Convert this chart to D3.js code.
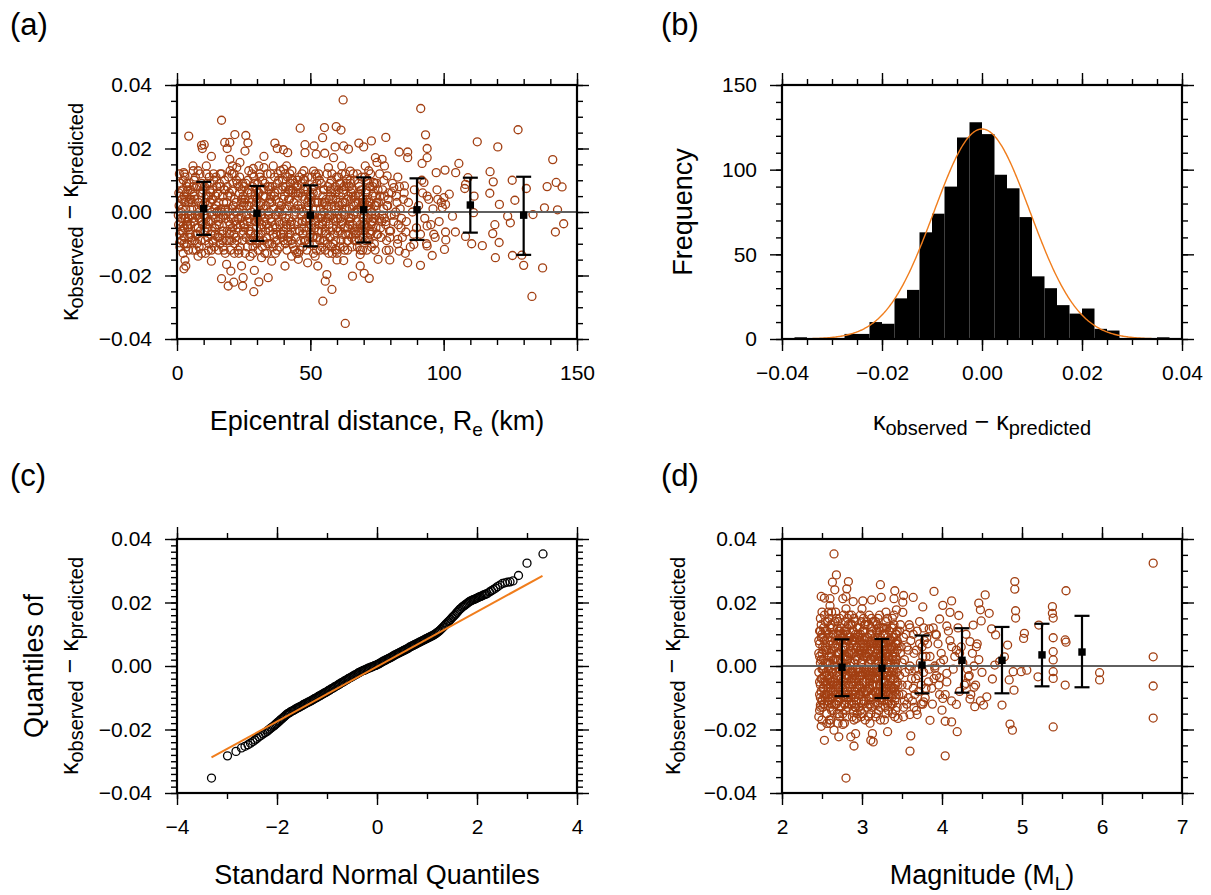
<!DOCTYPE html>
<html>
<head>
<meta charset="utf-8">
<script src="https://cdn.jsdelivr.net/npm/d3@7"></script>
<style>
  body { margin: 0; background: #fff; }
  svg { font-family: "Liberation Sans", Arial, Helvetica, sans-serif; }
</style>
</head>
<body>
<svg id="fig" width="1211" height="895"></svg>
<script>

///////////
// Data  //
///////////

// residuals are kept in units of 0.001 (kappa_obs - kappa_pred)

// (a) residual vs epicentral distance [km, residual]
var distOuter = [
  [62.3,35.3],[91.4,32.6],[16.7,28.9],[4.4,23.9],[46.2,26.4],[55.3,26.6],[59.7,26.9],[61.5,25.8],[54.6,23.4],[127.9,25.9],
  [93.2,24.3],[21.7,24.4],[25.8,24.1],[26.6,21.8],[17.9,21.9],[19.8,21.9],[9.2,21.0],[10.2,21.2],[9.5,20.0],[18.8,20.0],
  [25.5,19.2],[36.7,21.7],[37.6,20.0],[39.9,19.6],[41.5,18.7],[48.0,21.2],[48.0,18.7],[51.4,20.8],[52.2,18.2],[55.4,18.5],
  [59.3,20.5],[62.5,20.8],[64.3,19.8],[68.2,21.7],[70.0,20.5],[72.9,22.4],[78.3,23.5],[83.3,18.9],[86.5,18.9],[93.8,20.0],
  [112.6,22.1],[120.3,20.5],[140.9,16.5],[105.7,15.3],[117.4,12.7],[125.7,10.0],[138.8,8.0],[142.2,9.3],[144.4,7.9],[131.0,7.4],
  [118.6,9.5],[117.3,5.9],[137.8,1.3],[142.7,0.7],[145.0,-3.7],[141.9,-6.3],[133.5,-0.8],[137.1,-17.6],[133.1,-26.6],[130.0,-16.8],
  [129.3,-13.6],[125.8,-13.7],[125.0,-3.4],[124.0,-1.3],[126.7,3.7],[120.9,2.4],[119.2,-4.0],[118.4,-6.8],[120.8,-9.6],[119.4,-14.4],
  [114.5,-10.6],[110.5,-10.0],[108.2,-7.7],[111.2,-0.2],[111.4,5.0],[107.9,7.4],[108.2,8.7],[109.1,10.8],[104.5,12.4],[100.5,13.2],
  [97.2,12.4],[102.1,5.6],[100.1,4.5],[100.7,2.4],[103.3,-1.3],[104.4,-6.3],[100.7,-6.3],[100.8,-8.8],[100.3,-11.8],[95.7,-13.7],
  [91.3,-16.8],[86.5,-16.0],[93.8,-10.7],[88.8,-10.2],[85.8,-6.3],[85.3,8.2],[86.5,17.1],[93.8,17.1],[91.9,15.3],[92.6,9.3],
  [93.8,5.0],[97.8,4.0],[99.5,1.4],[93.8,-4.4],[96.3,-7.0],[82.8,-8.6],[83.3,-12.3],[79.8,-15.1],[78.5,-12.1],[75.4,-14.9],
  [72.1,-20.9],[70.2,-19.3],[65.8,-20.2],[68.7,-17.0],[68.7,-13.4],[63.1,-35.1],[54.7,-28.1],[58.1,-24.4],[55.6,-21.8],[56.2,-19.7],
  [52.8,-17.0],[51.8,-13.9],[60.0,-15.1],[62.5,-15.3],[59.3,-11.8],[28.8,-25.1],[24.6,-23.3],[19.2,-23.3],[16.7,-21.0],[21.3,-22.1],
  [24.8,-20.7],[30.7,-22.0],[34.2,-20.7],[29.0,-18.4],[24.2,-17.0],[20.2,-18.6],[18.6,-16.5],[12.9,-15.5],[3.0,-15.2],[2.6,-17.9],
  [3.3,-17.0],[7.9,-13.9],[13.5,-9.7],[40.5,-17.0],[45.5,-14.9],[49.0,-16.0],[43.0,-13.9],[35.5,-15.5],[31.7,-14.4],[2.6,5.0],
  [2.5,12.4],[2.9,11.9],[2.3,-4.4],[1.0,-9.7],[6.0,14.5],[12.9,17.5],[11.0,14.5],[19.8,16.6],[20.8,14.5],[23.6,15.6],
  [30.7,14.5],[32.6,17.5],[28.6,13.7],[36.1,14.5],[40.0,13.5],[41.1,14.5],[43.0,10.3],[47.4,10.3],[51.2,12.9],[56.8,14.0],
  [58.7,17.1],[61.8,14.5],[65.0,12.9],[70.6,14.5],[74.4,17.1],[76.9,16.6],[75.0,15.6],[77.8,14.5],[78.8,11.4],[81.3,7.7],
  [73.7,9.3],[63.7,10.3]
];
// (a) dense core, 0-100 km
var distCore = [
  [0.8,2],[1.4,-3],[2.1,7],[2.7,-8],[3.3,1],[4.0,-5],[4.6,9],[1.1,-11],[1.9,4],[2.5,-1],[3.0,11],[3.8,-10],[4.4,3],[1.6,-6],[2.3,-13],[3.5,6],[4.2,-2],[4.9,-7],
  [5.3,4],[5.9,-2],[6.4,10],[7.0,-7],[7.7,1],[8.3,-11],[8.9,6],[9.5,-4],[5.6,-9],[6.1,13],[6.8,-1],[7.4,8],[8.0,-5],[8.6,12],[9.2,-13],[9.8,2],[5.1,7],[7.2,-12],
  [10.2,-1],[10.9,5],[11.5,-8],[12.1,11],[12.8,-3],[13.4,7],[14.0,-11],[14.7,2],[10.5,-6],[11.2,9],[11.8,-12],[12.5,3],[13.1,-6],[13.7,12],[14.4,-2],[14.9,8],[10.7,-13],[13.0,0],
  [15.2,6],[15.8,-4],[16.5,1],[17.1,-9],[17.8,10],[18.4,-1],[19.0,5],[19.7,-7],[15.5,-12],[16.2,12],[16.8,-6],[17.5,3],[18.1,-13],[18.8,8],[19.4,-3],[15.0,0],[17.3,-11],[19.9,13],
  [20.3,-2],[20.9,7],[21.6,-10],[22.2,3],[22.9,-5],[23.5,11],[24.1,-1],[24.8,5],[20.6,12],[21.3,-7],[21.9,0],[22.6,9],[23.2,-13],[23.8,-4],[24.5,-9],[20.1,-12],[22.4,14],[24.9,2],
  [25.3,3],[25.9,-8],[26.6,10],[27.2,-2],[27.9,6],[28.5,-11],[29.1,1],[29.8,-5],[25.6,-13],[26.3,-3],[26.9,13],[27.6,-7],[28.2,4],[28.8,11],[29.5,-9],[25.1,8],[27.4,-14],[29.9,7],
  [30.2,-1],[30.8,6],[31.5,-7],[32.1,10],[32.8,-3],[33.4,2],[34.0,-10],[34.7,8],[30.5,-12],[31.2,12],[31.8,-4],[32.4,-9],[33.1,5],[33.7,-13],[34.4,0],[30.0,4],[32.6,14],[34.9,-6],
  [35.3,5],[35.9,-5],[36.6,11],[37.2,-1],[37.9,7],[38.5,-11],[39.1,2],[39.8,-6],[35.6,-10],[36.3,1],[36.9,-13],[37.6,9],[38.2,-3],[38.8,13],[39.5,-8],[35.1,12],[37.4,-7],[39.9,4],
  [40.2,-3],[40.8,8],[41.5,-9],[42.1,2],[42.8,-5],[43.4,10],[44.0,-1],[44.7,6],[40.5,12],[41.2,-12],[41.8,4],[42.4,-7],[43.1,13],[43.7,-11],[44.4,1],[40.0,-7],[42.6,7],[44.9,-13],
  [45.3,2],[45.9,-6],[46.6,9],[47.2,-11],[47.9,4],[48.5,-2],[49.1,11],[49.8,-8],[45.6,-13],[46.3,6],[46.9,-3],[47.6,13],[48.2,-9],[48.8,1],[49.5,-5],[45.1,10],[47.4,0],[49.9,5],
  [50.2,-4],[50.8,7],[51.5,-10],[52.1,1],[52.8,-6],[53.4,10],[54.0,-2],[54.7,5],[50.5,11],[51.2,-13],[51.8,3],[52.4,-8],[53.1,12],[53.7,-12],[54.4,-1],[50.0,-7],[52.6,6],[54.9,-9],
  [55.3,3],[55.9,-7],[56.6,8],[57.2,-1],[57.9,10],[58.5,-10],[59.1,2],[59.8,-5],[55.6,-12],[56.3,12],[56.9,-4],[57.6,5],[58.2,-13],[58.8,7],[59.5,-9],[55.1,0],[57.4,-8],[59.9,11],
  [60.2,-2],[60.8,6],[61.5,-9],[62.1,3],[62.8,-5],[63.4,9],[64.0,-12],[64.7,1],[60.5,11],[61.2,-6],[61.8,12],[62.4,-11],[63.1,-1],[63.7,4],[64.4,-7],[60.0,-13],[62.6,8],[64.9,10],
  [65.3,4],[65.9,-4],[66.6,10],[67.2,-9],[67.9,1],[68.5,-6],[69.1,7],[69.8,-2],[65.6,-11],[66.3,2],[66.9,-7],[67.6,12],[68.2,5],[68.8,-12],[69.5,3],[65.1,9],[67.4,-3],[69.9,-8],
  [70.2,-1],[70.8,6],[71.5,-8],[72.1,3],[72.8,-4],[73.4,8],[74.0,-10],[74.7,2],[70.5,11],[71.2,-12],[71.8,9],[72.4,-6],[73.1,0],[73.7,-2],[74.4,5],[70.0,-6],[72.6,12],[74.9,-7],
  [75.5,3],[76.3,-5],[77.1,7],[77.8,-2],[78.6,-9],[79.2,4],[80.1,-6],[80.8,9],[81.5,-1],[82.3,5],[83.0,-4],[83.7,1],[84.5,-8],[85.2,6],[86.0,-3],[86.8,3],[87.5,-11],[88.3,0],
  [89.0,7],[89.8,-5],[90.6,2],[91.3,-7],[92.1,6],[92.9,-2],[93.6,-10],[94.4,4],[95.2,-4],[96.0,1],[96.8,-8],[97.5,7],[98.3,-3],[99.1,3],[76.0,12],[79.5,-12],[82.8,11],[85.6,-13],
  [88.7,-7],[91.8,10],
  [0.6,-4],[1.2,5],[1.8,-9],[2.4,10],[3.1,-2],[3.7,8],[4.3,-12],[4.8,4],[0.9,12],[1.5,0],[2.2,-6],[2.9,3],[3.4,-11],[4.1,7],[4.7,-1],[1.3,9],[2.6,-10],[3.9,-4],
  [5.2,-8],[5.8,6],[6.3,-3],[6.9,11],[7.5,-10],[8.1,3],[8.7,-6],[9.3,9],[9.9,-1],[5.5,1],[6.0,-12],[6.6,4],[7.3,-5],[7.9,13],[8.4,0],[9.0,-9],[9.6,6],[6.2,8],
  [10.3,8],[10.8,-4],[11.4,2],[12.0,-10],[12.6,6],[13.2,-1],[13.8,10],[14.3,-7],[14.9,0],[10.6,-9],[11.1,12],[11.7,-3],[12.3,7],[12.9,-12],[13.5,4],[14.1,-5],[14.6,11],[11.9,5],
  [15.3,-8],[15.9,9],[16.4,-2],[17.0,5],[17.6,-12],[18.2,1],[18.8,-6],[19.3,11],[19.9,-4],[15.6,3],[16.1,-10],[16.7,12],[17.3,-1],[17.9,7],[18.5,-9],[19.1,0],[19.6,6],[16.9,-7],
  [20.2,5],[20.8,-5],[21.4,12],[22.0,-8],[22.6,0],[23.1,8],[23.7,-11],[24.3,3],[24.9,-6],[20.5,-9],[21.1,2],[21.7,-3],[22.3,10],[22.9,-12],[23.4,6],[24.0,-2],[24.6,9],[21.5,-13],
  [25.2,-4],[25.8,9],[26.4,-11],[27.0,2],[27.6,-6],[28.1,12],[28.7,-1],[29.3,5],[29.9,-10],[25.5,4],[26.1,-1],[26.7,7],[27.3,-9],[27.9,0],[28.4,-13],[29.0,9],[29.6,-3],[26.9,-6],
  [30.3,9],[30.9,-3],[31.4,3],[32.0,-11],[32.6,7],[33.2,-6],[33.8,12],[34.3,-1],[34.9,4],[30.6,-8],[31.1,11],[31.7,-1],[32.3,5],[32.9,-13],[33.5,-4],[34.1,8],[34.6,-10],[31.3,0],
  [35.2,-2],[35.8,8],[36.4,-8],[37.0,4],[37.6,-12],[38.1,10],[38.7,-4],[39.3,7],[39.9,-9],[35.5,3],[36.1,-11],[36.7,6],[37.3,-5],[37.9,12],[38.4,0],[39.0,-7],[39.6,10],[36.9,-1],
  [40.3,5],[40.9,-5],[41.4,11],[42.0,-2],[42.6,9],[43.2,-10],[43.8,3],[44.3,-6],[44.9,8],[40.6,-10],[41.1,1],[41.7,-8],[42.3,12],[42.9,-3],[43.5,6],[44.1,-12],[44.6,0],[41.9,7],
  [45.2,-3],[45.8,11],[46.4,-9],[47.0,5],[47.6,-5],[48.1,8],[48.7,-12],[49.3,2],[49.9,-1],[45.5,6],[46.1,-12],[46.7,1],[47.3,-7],[47.9,10],[48.4,-3],[49.0,7],[49.6,-10],[46.9,12],
  [50.3,3],[50.9,-8],[51.4,8],[52.0,-3],[52.6,11],[53.2,-6],[53.8,1],[54.3,-11],[54.9,7],[50.6,-1],[51.1,6],[51.7,-5],[52.3,-12],[52.9,3],[53.5,-9],[54.1,9],[54.6,-4],[51.9,12],
  [55.2,7],[55.8,-3],[56.4,-10],[57.0,4],[57.6,-6],[58.1,12],[58.7,-2],[59.3,6],[59.9,-12],[55.5,-6],[56.1,2],[56.7,-1],[57.3,9],[57.9,-11],[58.4,4],[59.0,-7],[59.6,1],[56.9,-13],
  [60.3,-6],[60.9,2],[61.4,9],[62.0,-7],[62.6,-1],[63.2,12],[63.8,-9],[64.3,5],[64.9,-3],[60.6,7],[61.1,-11],[61.7,-3],[62.3,6],[62.9,-12],[63.5,1],[64.1,-5],[64.6,8],[61.9,0],
  [65.2,-2],[65.8,7],[66.4,-6],[67.0,3],[67.6,-11],[68.1,9],[68.7,-4],[69.3,11],[69.9,2],[65.5,-8],[66.1,12],[66.7,0],[67.3,-5],[67.9,6],[68.4,-9],[69.0,1],[69.6,-12],[66.9,5],
  [70.3,3],[70.9,-5],[71.4,10],[72.0,-9],[72.6,1],[73.2,-6],[73.8,6],[74.3,-12],[74.9,9],[70.6,-9],[71.1,4],[71.7,-2],[72.3,8],[72.9,-11],[73.5,-3],[74.1,2],[74.6,-5],[71.9,13],
  [75.3,-7],[76.1,5],[76.9,-1],[77.6,10],[78.3,-4],[79.0,2],[79.8,-8],[80.5,6],[81.2,-3],[82.0,0],[82.7,-10],[83.4,8],[84.2,-2],[84.9,4],
  [0.7,6],[1.7,-2],[2.8,-5],[3.6,9],[4.5,-8],[5.4,-1],[6.5,5],[7.6,-7],[8.5,8],[9.4,-3],[1.0,-7],[3.2,4],[5.0,-4],[6.7,-9],[8.2,-2],[9.7,7],
  [10.5,3],[11.6,-5],[12.4,9],[13.6,-9],[14.5,5],[15.4,-3],[16.3,8],[17.4,-6],[18.6,3],[19.5,-9],[11.0,-1],[12.7,-7],[14.2,1],[16.0,-8],[17.7,7],[19.2,1],
  [20.4,-6],[21.5,4],[22.5,-9],[23.3,1],[24.4,7],[25.4,-5],[26.5,6],[27.5,-3],[28.3,8],[29.4,-7],[21.0,9],[22.8,-2],[24.7,-7],[26.2,2],[28.0,-9],[29.7,3],
  [30.4,6],[31.6,-5],[32.5,1],[33.6,-8],[34.5,7],[35.4,-3],[36.5,5],[37.5,-9],[38.3,3],[39.4,-1],[31.0,-9],[32.9,9],[34.2,-5],[36.0,-7],[37.8,0],[39.7,8],
  [40.4,1],[41.6,6],[42.5,-4],[43.3,7],[44.5,-8],[45.4,5],[46.5,-1],[47.5,7],[48.3,-6],[49.4,4],[41.0,-4],[42.9,-9],[44.2,9],[46.0,-6],[47.8,-9],[49.7,-2],
  [50.4,5],[51.6,-1],[52.5,9],[53.3,-4],[54.5,3],[55.4,-9],[56.5,-2],[57.5,7],[58.3,-5],[59.4,8],[51.0,-8],[52.9,-2],[54.2,-6],[56.0,4],[57.8,1],[59.7,-3],
  [60.4,3],[61.6,-4],[62.5,7],[63.3,-7],[64.5,-2],[65.4,6],[66.5,-9],[67.5,0],[68.3,8],[69.4,-5],[61.0,9],[62.9,1],[64.2,-9],[66.0,5],[67.8,-6],[69.7,4],
  [70.4,-4],[71.6,2],[72.5,-7],[73.3,5],[74.5,-1],[75.4,7],[76.5,-8],[77.5,1],[78.3,-3],[79.4,6],[71.0,7],[72.9,-1],[74.2,9],[76.0,-2],[77.8,5],[79.7,-6],
  [0.5,-1],[2.0,1],[3.9,-3],[5.7,3],[7.8,-1],[9.1,2],[10.9,-2],[12.9,4],[14.8,-4],[16.6,0],[18.3,-2],[20.7,1],[22.1,-4],[24.2,4],[26.0,-1],[27.8,3],
  [29.2,-3],[31.3,2],[33.0,-2],[34.8,3],[36.8,-4],[38.6,1],[40.7,-2],[42.2,4],[44.0,-4],[45.7,1],[47.1,-3],[49.0,3],[50.9,-1],[52.7,3],[54.6,-3],[56.2,1],
  [58.0,-1],[59.6,4],[61.3,-2],[63.0,3],[64.8,-4],[66.2,-1],[68.0,3],[69.7,-3],[71.3,1],[73.0,-3],[74.8,3],[76.8,-3],[78.7,2],[80.3,-1],[82.5,3],[84.0,-5]
];
var distBinCenter = [10, 30, 50, 70, 90, 110, 130];
var distBinMean   = [1.1, -0.4, -1.0, 0.7, 0.7, 2.2, -1.0];
var distBinHigh   = [9.5, 8.2, 8.4, 10.9, 10.6, 10.8, 11.1];
var distBinLow    = [-7.2, -9.1, -10.8, -9.6, -8.8, -6.5, -13.5];

// (b) histogram, bins of 0.0025 starting at -0.04
var histStart = -0.04;
var histWidth = 0.0025;
var histCounts = [0, 1, 0, 0, 0, 3, 3, 10, 9, 24, 29, 63, 74, 90, 119, 128,
                  121, 97, 89, 72, 37, 30, 20, 15, 18, 6, 5, 0, 0, 0, 1, 0];
// fitted normal curve parameters
var fitMean = 0.0, fitSigma = 0.0096, fitPeak = 124;

// (c) Q-Q plot [standard normal quantile, sorted residual]
var qqPoints = [
  [-3.31,-35.3],[-2.99,-28.3],[-2.82,-26.9],[-2.71,-25.8],[-2.64,-25.3],[-2.58,-24.8],[-2.53,-24.3],[-2.48,-23.8],
  [-2.44,-23.3],[-2.40,-22.8],[-2.36,-22.3],[-2.32,-21.9],[-2.28,-21.4],[-2.24,-21.0],
  [-2.20,-20.6],[-2.15,-19.9],[-2.10,-19.3],[-2.05,-18.7],[-2.00,-18.0],[-1.95,-17.3],[-1.90,-16.6],[-1.85,-15.9],
  [-1.80,-15.2],[-1.75,-14.7],[-1.70,-14.2],[-1.65,-13.8],[-1.60,-13.3],[-1.55,-12.9],[-1.50,-12.5],[-1.45,-12.0],
  [-1.40,-11.6],[-1.35,-11.2],[-1.30,-10.8],[-1.25,-10.3],[-1.20,-9.9],[-1.15,-9.4],[-1.10,-9.0],[-1.05,-8.5],
  [-1.00,-8.1],[-0.95,-7.6],[-0.90,-7.1],[-0.85,-6.6],[-0.80,-6.2],[-0.75,-5.7],[-0.70,-5.2],[-0.65,-4.7],
  [-0.60,-4.3],[-0.55,-3.8],[-0.50,-3.4],[-0.45,-2.9],[-0.40,-2.5],[-0.35,-2.0],[-0.30,-1.6],[-0.25,-1.3],
  [-0.20,-0.9],[-0.15,-0.6],[-0.10,-0.3],[-0.05,0.1],[0.00,0.4],[0.05,0.8],[0.10,1.3],[0.15,1.7],
  [0.20,2.1],[0.25,2.5],[0.30,2.9],[0.35,3.4],[0.40,3.8],[0.45,4.2],[0.50,4.6],[0.55,5.0],
  [0.60,5.4],[0.65,5.9],[0.70,6.3],[0.75,6.7],[0.80,7.1],[0.85,7.5],[0.90,7.9],[0.95,8.3],
  [1.00,8.7],[1.05,9.1],[1.10,9.5],[1.15,9.9],[1.20,10.5],[1.25,11.1],[1.30,11.9],[1.35,12.7],
  [1.40,13.5],[1.45,14.3],[1.50,15.2],[1.55,16.0],[1.60,16.9],[1.65,17.8],[1.70,18.5],[1.75,19.1],
  [1.80,19.7],[1.85,20.3],[1.90,20.7],[1.95,21.0],[2.00,21.4],[2.05,21.8],[2.10,22.1],[2.15,22.5],
  [2.20,22.8],[2.25,23.3],[2.29,23.7],[2.33,24.1],[2.37,24.5],[2.41,25.0],[2.46,25.5],[2.51,26.0],
  [2.56,26.2],[2.61,26.4],[2.66,26.5],[2.72,26.8],[2.83,28.5],[3.00,32.4],[3.32,35.3],
  [-2.175,-20.2],[-2.125,-19.6],[-2.075,-19.0],[-2.025,-18.3],[-1.975,-17.6],[-1.925,-16.9],[-1.875,-16.2],[-1.825,-15.5],
  [-1.775,-14.9],[-1.725,-14.4],[-1.675,-14.0],[-1.625,-13.5],[-1.575,-13.1],[-1.525,-12.7],[-1.475,-12.2],[-1.425,-11.8],
  [-1.375,-11.4],[-1.325,-11.0],[-1.275,-10.5],[-1.225,-10.1],[-1.175,-9.6],[-1.125,-9.2],[-1.075,-8.7],[-1.025,-8.3],
  [-0.975,-7.8],[-0.925,-7.3],[-0.875,-6.9],[-0.825,-6.4],[-0.775,-5.9],[-0.725,-5.4],[-0.675,-5.0],[-0.625,-4.5],
  [-0.575,-4.0],[-0.525,-3.6],[-0.475,-3.1],[-0.425,-2.7],[-0.375,-2.2],[-0.325,-1.8],[-0.275,-1.4],[-0.225,-1.1],
  [-0.175,-0.7],[-0.125,-0.4],[-0.075,-0.1],[-0.025,0.2],[0.025,0.6],[0.075,1.0],[0.125,1.5],[0.175,1.9],
  [0.225,2.3],[0.275,2.7],[0.325,3.2],[0.375,3.6],[0.425,4.0],[0.475,4.4],[0.525,4.8],[0.575,5.2],
  [0.625,5.6],[0.675,6.1],[0.725,6.5],[0.775,6.9],[0.825,7.3],[0.875,7.7],[0.925,8.1],[0.975,8.5],
  [1.025,8.9],[1.075,9.3],[1.125,9.7],[1.175,10.2],[1.225,10.8],[1.275,11.5],[1.325,12.3],[1.375,13.1],
  [1.425,13.9],[1.475,14.7],[1.525,15.6],[1.575,16.4],[1.625,17.3],[1.675,18.1],[1.725,18.8],[1.775,19.4],
  [1.825,20.0],[1.875,20.5],[1.925,20.9],[1.975,21.2],[2.025,21.6],[2.075,21.9],[2.125,22.3],[2.175,22.6]
];
var qqLine = [[-3.31, -28.8], [3.31, 28.4]];

// (d) residual vs magnitude [ML, residual]
var magOuter = [
  [2.65,35.3],[2.68,28.7],[2.63,26.4],[2.66,24.0],[2.81,24.3],[2.83,26.6],[2.80,21.9],[2.49,21.9],[2.53,21.4],[2.60,21.2],
  [2.76,21.2],[2.89,20.3],[3.01,20.5],[3.12,20.8],[3.23,25.6],[3.24,21.6],[3.40,21.2],[3.41,23.7],[3.52,22.2],[3.51,20.1],
  [3.64,21.6],[3.51,16.9],[3.43,17.7],[3.76,18.6],[3.90,23.5],[4.01,19.1],[4.12,20.5],[4.10,16.9],[4.21,15.9],[3.97,14.8],
  [4.06,12.6],[3.93,9.8],[3.84,11.7],[4.39,12.9],[4.46,19.8],[4.48,17.7],[4.49,14.2],[4.54,22.4],[4.59,16.6],[4.62,11.7],
  [4.67,9.8],[4.91,26.6],[4.91,24.2],[4.92,17.4],[4.92,15.1],[4.82,6.6],[5.03,10.3],[5.02,8.7],[5.06,-1.3],[5.21,12.9],
  [5.20,-3.4],[5.38,18.7],[5.38,16.6],[5.39,15.1],[5.55,23.7],[5.39,8.9],[5.39,4.5],[5.39,1.9],[5.39,-1.8],[5.39,-3.9],
  [5.54,8.2],[5.55,7.5],[5.54,-6.0],[5.39,-19.2],[5.97,-2.1],[5.97,-4.4],[6.64,32.4],[6.64,2.9],[6.64,-6.3],[6.64,-16.4],
  [4.88,-20.2],[4.85,-18.3],[4.75,-12.3],[4.90,-7.6],[4.84,-4.4],[4.89,-1.8],[4.63,-4.1],[4.56,-9.7],[4.52,-12.3],[4.41,-12.8],
  [4.35,-10.4],[4.40,-6.7],[4.30,-5.5],[4.18,-12.1],[4.19,-20.7],[4.12,-17.6],[4.04,-17.4],[4.04,-28.3],[4.00,-13.9],[4.01,-10.2],
  [3.85,-17.1],[3.60,-26.8],[3.61,-22.0],[3.77,-11.3],[3.69,-15.3],[3.60,-15.3],[3.52,-16.0],[3.45,-16.5],[3.32,-20.7],[3.14,-23.9],
  [3.11,-23.4],[3.13,-21.3],[2.92,-21.3],[2.90,-25.2],[2.86,-22.3],[2.80,-35.3],[2.71,-22.3],[2.65,-20.2],[2.53,-23.4],[2.56,-18.1],
  [2.60,-18.1],[2.76,-18.4],[2.93,-16.5],[2.99,-16.0],[2.48,-12.3],[2.50,-10.7],[4.35,7.7],[4.43,6.1],[4.22,4.0],[4.12,6.1],
  [3.91,-0.7],[3.97,-3.7],[4.06,-2.3],[4.33,-3.4],[4.66,0.3],[4.72,1.4],[4.78,2.9],[4.99,-1.8]
];
// (d) dense core, ML 2.5-4.5
var magCore = [
  [2.47,3],[2.48,-6],[2.49,9],[2.50,-11],[2.51,0],[2.52,12],[2.53,-3],[2.54,6],[2.47,-14],[2.48,15],[2.49,-8],[2.50,4],[2.51,-1],[2.52,-12],[2.53,8],[2.54,-5],[2.47,11],[2.50,-17],[2.52,2],[2.55,-9],
  [2.56,5],[2.57,-4],[2.58,10],[2.59,-9],[2.60,1],[2.61,13],[2.62,-12],[2.63,-2],[2.64,7],[2.56,-15],[2.57,14],[2.58,-7],[2.59,3],[2.60,-13],[2.61,-5],[2.62,9],[2.63,-10],[2.64,2],[2.58,17],[2.61,-17],
  [2.66,-1],[2.67,8],[2.68,-6],[2.69,12],[2.70,-10],[2.71,4],[2.72,-3],[2.73,10],[2.74,-13],[2.66,14],[2.67,-9],[2.68,2],[2.69,-15],[2.70,6],[2.71,-7],[2.72,15],[2.73,-1],[2.74,5],[2.68,-12],[2.72,-16],
  [2.76,3],[2.77,-5],[2.78,11],[2.79,-12],[2.80,0],[2.81,8],[2.82,-8],[2.83,13],[2.84,-3],[2.76,-15],[2.77,16],[2.78,-1],[2.79,6],[2.80,-14],[2.81,-4],[2.82,10],[2.83,-10],[2.84,4],[2.78,-18],[2.82,15],
  [2.86,-2],[2.87,7],[2.88,-9],[2.89,11],[2.90,-5],[2.91,2],[2.92,-13],[2.93,9],[2.94,-1],[2.86,13],[2.87,-12],[2.88,4],[2.89,-6],[2.90,15],[2.91,-10],[2.92,5],[2.93,-4],[2.94,12],[2.88,-16],[2.91,8],
  [2.96,4],[2.97,-6],[2.98,10],[2.99,-11],[3.00,1],[3.01,7],[3.02,-8],[3.03,13],[3.04,-2],[2.96,-13],[2.97,12],[2.98,-3],[2.99,6],[3.00,-15],[3.01,-5],[3.02,3],[3.03,-11],[3.04,9],[2.98,-1],[3.02,15],
  [3.06,-1],[3.07,9],[3.08,-7],[3.09,4],[3.10,-12],[3.11,12],[3.12,-3],[3.13,6],[3.14,-9],[3.06,14],[3.07,-13],[3.08,1],[3.09,-5],[3.10,10],[3.11,-10],[3.12,7],[3.13,-1],[3.14,3],[3.08,-16],[3.12,15],
  [3.16,2],[3.17,-6],[3.18,11],[3.19,-10],[3.20,5],[3.21,-2],[3.22,8],[3.23,-13],[3.24,0],[3.16,-12],[3.17,14],[3.18,-4],[3.19,7],[3.20,-8],[3.21,12],[3.22,-11],[3.23,4],[3.24,-5],[3.18,-15],[3.22,16],
  [3.26,-3],[3.27,6],[3.28,-9],[3.29,10],[3.30,-1],[3.31,4],[3.32,-12],[3.33,8],[3.34,-6],[3.26,12],[3.27,-11],[3.28,2],[3.29,-5],[3.30,14],[3.31,-8],[3.32,1],[3.33,-14],[3.34,11],[3.28,-17],[3.32,6],
  [3.36,1],[3.37,-7],[3.38,9],[3.39,-4],[3.40,6],[3.41,-11],[3.42,3],[3.43,-2],[3.44,11],[3.36,-12],[3.37,12],[3.38,-1],[3.39,-9],[3.40,13],[3.41,0],[3.42,-6],[3.43,7],[3.44,-13],[3.38,-15],[3.42,10],
  [3.47,-3],[3.49,6],[3.51,-9],[3.53,2],[3.55,10],[3.57,-6],[3.59,-1],[3.61,8],[3.63,-11],[3.65,4],[3.67,-4],[3.69,11],[3.71,-8],[3.73,1],[3.75,6],[3.77,-2],
  [3.79,-10],[3.81,9],[3.83,-5],[3.85,3],[3.87,-7],[3.89,12],[3.91,0],[3.93,-3],[3.95,7],[3.97,-9],[3.99,4],[3.48,13],[3.52,-13],[3.56,-12],[3.60,12],[3.64,-7],
  [3.68,-14],[3.72,14],[3.76,-12],[3.80,3],[3.84,-1],[3.88,-12],[3.92,10],[3.96,-6],[3.50,1],[3.58,5],[3.66,-1],[3.74,-6],[3.82,7],[3.90,-4],[3.98,1],
  [4.02,2],[4.06,-5],[4.10,8],[4.14,-1],[4.18,5],[4.22,-8],[4.26,1],[4.30,10],[4.34,-3],[4.38,4],[4.42,-6],[4.46,2],[4.50,-2],
  [4.04,-9],[4.12,-11],[4.20,12],[4.28,-6],[4.36,-9],[4.44,7],[4.48,-11],[4.08,11],[4.16,3],[4.24,6],[4.32,-1],[4.40,0],
  [2.46,-2],[2.47,7],[2.48,-10],[2.49,13],[2.50,-4],[2.51,9],[2.52,-7],[2.53,16],[2.54,1],[2.46,-16],[2.47,-5],[2.48,11],[2.49,2],[2.50,17],[2.51,-13],[2.52,-1],[2.53,-9],[2.54,14],[2.55,5],[2.49,-19],
  [2.56,-3],[2.57,9],[2.58,-11],[2.59,15],[2.60,-6],[2.61,4],[2.62,-1],[2.63,12],[2.64,-14],[2.56,11],[2.57,-8],[2.58,1],[2.59,-17],[2.60,8],[2.61,-10],[2.62,17],[2.63,5],[2.64,-6],[2.65,0],[2.60,19],
  [2.66,6],[2.67,-4],[2.68,15],[2.69,-11],[2.70,2],[2.71,-15],[2.72,8],[2.73,-6],[2.74,12],[2.66,-9],[2.67,17],[2.68,-2],[2.69,4],[2.70,-18],[2.71,11],[2.72,-9],[2.73,2],[2.74,-4],[2.75,9],[2.70,14],
  [2.76,-7],[2.77,5],[2.78,-12],[2.79,14],[2.80,-3],[2.81,-16],[2.82,2],[2.83,-6],[2.84,16],[2.76,10],[2.77,-10],[2.78,6],[2.79,-1],[2.80,11],[2.81,3],[2.82,-13],[2.83,8],[2.84,-9],[2.85,0],[2.80,18],
  [2.86,5],[2.87,-4],[2.88,13],[2.89,-14],[2.90,1],[2.91,-8],[2.92,10],[2.93,-11],[2.94,6],[2.86,-10],[2.87,16],[2.88,-2],[2.89,8],[2.90,-17],[2.91,14],[2.92,-5],[2.93,3],[2.94,-15],[2.95,-2],[2.90,-12],
  [2.96,-6],[2.97,8],[2.98,-14],[2.99,14],[3.00,-3],[3.01,11],[3.02,-11],[3.03,5],[3.04,-17],[2.96,9],[2.97,-2],[2.98,16],[2.99,-8],[3.00,4],[3.01,-12],[3.02,-1],[3.03,8],[3.04,13],[3.05,-5],[3.00,18],
  [3.06,6],[3.07,-3],[3.08,13],[3.09,-10],[3.10,2],[3.11,-15],[3.12,10],[3.13,-6],[3.14,14],[3.06,-8],[3.07,3],[3.08,-12],[3.09,16],[3.10,-4],[3.11,5],[3.12,-13],[3.13,11],[3.14,-2],[3.15,7],[3.10,-18],
  [3.16,-4],[3.17,8],[3.18,-8],[3.19,13],[3.20,-1],[3.21,-14],[3.22,3],[3.23,9],[3.24,-10],[3.16,9],[3.17,-16],[3.18,4],[3.19,-2],[3.20,15],[3.21,6],[3.22,-6],[3.23,-17],[3.24,12],[3.25,2],[3.20,-12],
  [3.26,4],[3.27,-5],[3.28,12],[3.29,-13],[3.30,7],[3.31,-3],[3.32,15],[3.33,-9],[3.34,2],[3.26,-9],[3.27,10],[3.28,-2],[3.29,5],[3.30,-15],[3.31,12],[3.32,-6],[3.33,3],[3.34,-11],[3.35,8],[3.30,17],
  [3.36,-4],[3.37,6],[3.38,-12],[3.39,12],[3.40,-7],[3.41,4],[3.42,-14],[3.43,10],[3.44,-1],[3.36,8],[3.37,-10],[3.38,15],[3.39,2],[3.40,-3],[3.41,-16],[3.42,7],[3.43,-9],[3.44,5],[3.45,-6],[3.40,16],
  [3.46,-9],[3.48,4],[3.50,-6],[3.52,9],[3.54,-2],[3.56,6],[3.58,-10],[3.60,0],[3.62,-4],[3.64,10],[3.66,-9],[3.68,5],[3.70,-3],[3.72,7],[3.74,-12],[3.76,3],
  [3.78,8],[3.80,-7],[3.47,11],[3.53,-11],[3.59,13],[3.65,-13],[3.71,-1],[3.77,12],
  [2.46,4],[2.47,-9],[2.48,1],[2.49,-4],[2.50,10],[2.51,-7],[2.52,5],[2.53,-12],[2.54,11],[2.55,-2],[2.46,8],[2.48,-13],[2.50,-1],[2.52,-5],[2.54,-10],[2.51,6],
  [2.56,1],[2.57,-11],[2.58,5],[2.59,-3],[2.60,12],[2.61,-8],[2.62,3],[2.63,-5],[2.64,10],[2.65,-12],[2.56,-6],[2.58,-1],[2.60,-4],[2.62,-14],[2.64,-8],[2.61,8],
  [2.66,2],[2.67,-12],[2.68,7],[2.69,-3],[2.70,10],[2.71,-1],[2.72,4],[2.73,-9],[2.74,1],[2.75,-6],[2.66,-5],[2.68,-9],[2.70,-6],[2.72,11],[2.74,8],[2.71,-11],
  [2.76,-2],[2.77,9],[2.78,-6],[2.79,2],[2.80,6],[2.81,-10],[2.82,-3],[2.83,4],[2.84,-12],[2.85,9],[2.76,6],[2.78,3],[2.80,-9],[2.82,-1],[2.84,9],[2.81,12],
  [2.86,1],[2.87,-8],[2.88,8],[2.89,-2],[2.90,4],[2.91,-13],[2.92,-1],[2.93,6],[2.94,-7],[2.95,10],[2.86,-5],[2.88,-4],[2.90,9],[2.92,-9],[2.94,2],[2.91,-3],
  [2.96,-1],[2.97,5],[2.98,-9],[2.99,1],[3.00,9],[3.01,-2],[3.02,6],[3.03,-5],[3.04,4],[3.05,-11],[2.96,-9],[2.98,5],[3.00,-7],[3.02,11],[3.04,-8],[3.01,2],
  [3.06,3],[3.07,-8],[3.08,7],[3.09,-1],[3.10,-7],[3.11,2],[3.12,-9],[3.13,-4],[3.14,7],[3.15,-1],[3.06,-4],[3.08,-2],[3.10,5],[3.12,2],[3.14,-6],[3.11,8],
  [3.16,-8],[3.17,3],[3.18,-1],[3.19,-6],[3.20,9],[3.21,1],[3.22,-3],[3.23,-8],[3.24,7],[3.25,-10],[3.16,5],[3.18,7],[3.20,-4],[3.22,11],[3.24,3],[3.21,-9],
  [3.26,0],[3.27,-8],[3.28,5],[3.29,-1],[3.30,3],[3.31,-11],[3.32,9],[3.33,-3],[3.34,6],[3.35,-4],[3.26,7],[3.28,-5],[3.30,-7],[3.32,-2],[3.34,-8],[3.31,1],
  [3.36,5],[3.37,-2],[3.38,3],[3.39,-7],[3.40,9],[3.41,-4],[3.42,-10],[3.43,2],[3.44,-5],[3.45,7],[3.36,-7],[3.38,6],[3.40,-1],[3.42,1],[3.44,8],[3.41,-8]
];
var magBinCenter = [2.75, 3.25, 3.75, 4.25, 4.75, 5.25, 5.75];
var magBinMean   = [-0.4, -0.7, 0.3, 1.8, 1.8, 3.5, 4.4];
var magBinHigh   = [8.4, 8.5, 9.6, 11.9, 12.3, 13.3, 15.8];
var magBinLow    = [-9.5, -10.1, -8.6, -8.4, -8.6, -6.4, -6.7];


///////////////
// Helpers   //
///////////////

var svg = d3.select('#fig');
var FONT = '"Liberation Sans", Arial, Helvetica, sans-serif';
var brown = '#a23f12';
var orange = '#f07d1c';
var milli = 0.001;

var W = 400, H = 254;

function panel(left, top) {
  return svg.append('g').attr('transform', 'translate(' + left + ',' + top + ')');
}

function side(g, axis, tr, vals, size, fmt, pad) {
  var a = g.append('g')
    .attr('transform', tr)
    .call(axis.tickValues(vals).tickSize(size).tickPadding(pad || 3).tickFormat(fmt || ''));
  // d3.axis writes its own font, so override afterwards
  a.attr('font-family', FONT).attr('font-size', 21);
  a.select('.domain').remove();
  a.selectAll('line').attr('stroke', '#000').attr('stroke-width', 1.4);
  a.selectAll('text').attr('fill', '#000');
}

function frame(g, x, y, o) {
  side(g, d3.axisBottom(x), 'translate(0,' + H + ')', o.xMinor, 6);
  side(g, d3.axisBottom(x), 'translate(0,' + H + ')', o.xMajor, 12, o.xFmt, 14);
  side(g, d3.axisTop(x), 'translate(0,0)', o.xMinor, 6);
  side(g, d3.axisTop(x), 'translate(0,0)', o.xMajor, 12);
  side(g, d3.axisLeft(y), 'translate(0,0)', o.yMinor, 6);
  side(g, d3.axisLeft(y), 'translate(0,0)', o.yMajor, 12, o.yFmt, 13);
  side(g, d3.axisRight(y), 'translate(' + W + ',0)', o.yMinor, 6);
  side(g, d3.axisRight(y), 'translate(' + W + ',0)', o.yMajor, 12);
  g.append('rect')
    .attr('width', W).attr('height', H)
    .attr('fill', 'none').attr('stroke', '#000').attr('stroke-width', 2.2);
}

// kappa_observed - kappa_predicted
function kappaText(t) {
  t.append('tspan').text('\u03BA');
  t.append('tspan').attr('font-size', 20).attr('dy', 5).text('observed');
  t.append('tspan').attr('dy', -5).text(' \u2212 \u03BA');
  t.append('tspan').attr('font-size', 20).attr('dy', 5).text('predicted');
}

function yTitle(x, y) {
  return svg.append('text')
    .attr('transform', 'translate(' + x + ',' + y + ') rotate(-90)')
    .attr('text-anchor', 'middle')
    .attr('font-size', 25)
    .attr('fill', '#000');
}

function label(txt, x, y) {
  svg.append('text').attr('x', x).attr('y', y)
    .attr('font-size', 31).attr('fill', '#000').text(txt);
}

function errorBars(g, x, y, cx, mean, lo, hi) {
  var eb = g.append('g');
  cx.forEach(function(c, i) {
    var px = x(c);
    eb.append('line').attr('x1', px).attr('x2', px)
      .attr('y1', y(lo[i] * milli)).attr('y2', y(hi[i] * milli));
    [lo[i], hi[i]].forEach(function(v) {
      eb.append('line').attr('x1', px - 7.5).attr('x2', px + 7.5)
        .attr('y1', y(v * milli)).attr('y2', y(v * milli));
    });
    eb.append('rect').attr('x', px - 3.7).attr('y', y(mean[i] * milli) - 3.7)
      .attr('width', 7.4).attr('height', 7.4).attr('fill', '#000');
  });
  eb.selectAll('line').attr('stroke', '#000').attr('stroke-width', 2.2);
}

var residMajor = [-0.04, -0.02, 0, 0.02, 0.04];
var residFmt = d3.format('.2f');
function milliTicks(step) {
  return d3.range(-40, 41, step).map(function(v) { return v * milli; });
}

function zeroLine(g, y) {
  g.append('line').attr('x1', 0).attr('x2', W)
    .attr('y1', y(0)).attr('y2', y(0))
    .attr('stroke', '#5f5f5f').attr('stroke-width', 2);
}

function rings(g, x, y, pts, color) {
  g.append('g').selectAll('circle')
    .data(pts).enter().append('circle')
    .attr('cx', function(d) { return x(d[0]); })
    .attr('cy', function(d) { return y(d[1] * milli); })
    .attr('r', 4)
    .attr('fill', 'none')
    .attr('stroke', color)
    .attr('stroke-width', 1.3);
}

///////////////
// Panel (a) //
///////////////

var ga = panel(177, 85);
var xa = d3.scaleLinear().domain([0, 150]).range([0, W]);
var ya = d3.scaleLinear().domain([-0.04, 0.04]).range([H, 0]);
rings(ga, xa, ya, distCore.concat(distOuter), brown);
zeroLine(ga, ya);
errorBars(ga, xa, ya, distBinCenter, distBinMean, distBinLow, distBinHigh);
frame(ga, xa, ya, {
  xMajor: [0, 50, 100, 150], xMinor: d3.range(0, 151, 10), xFmt: d3.format('d'),
  yMajor: residMajor, yMinor: milliTicks(5), yFmt: residFmt
});
kappaText(yTitle(78, 212));
var ta = svg.append('text').attr('x', 377).attr('y', 430).attr('text-anchor', 'middle')
  .attr('font-size', 27).attr('fill', '#000');
ta.append('tspan').text('Epicentral distance, R');
ta.append('tspan').attr('font-size', 19).attr('dy', 6).text('e');
ta.append('tspan').attr('dy', -6).text(' (km)');
label('(a)', 10, 35);

///////////////
// Panel (b) //
///////////////

var gb = panel(782, 85);
var xb = d3.scaleLinear().domain([-0.04, 0.04]).range([0, W]);
var yb = d3.scaleLinear().domain([0, 150]).range([H, 0]);
histCounts.forEach(function(c, i) {
  if (!c) return;
  var x0 = xb(histStart + i * histWidth), x1 = xb(histStart + (i + 1) * histWidth);
  gb.append('rect').attr('x', x0).attr('width', x1 - x0)
    .attr('y', yb(c)).attr('height', yb(0) - yb(c)).attr('fill', '#000');
});
var fitX = d3.range(0, 401).map(function(i) { return -0.04 + i * 0.0002; });
gb.append('path')
  .datum(fitX)
  .attr('fill', 'none').attr('stroke', orange).attr('stroke-width', 1.4)
  .attr('d', d3.line()
    .x(function(v) { return xb(v); })
    .y(function(v) { var z = (v - fitMean) / fitSigma; return yb(fitPeak * Math.exp(-0.5 * z * z)); }));
frame(gb, xb, yb, {
  xMajor: residMajor, xMinor: milliTicks(5), xFmt: residFmt,
  yMajor: [0, 50, 100, 150], yMinor: d3.range(0, 151, 10), yFmt: d3.format('d')
});
yTitle(692, 212).attr('font-size', 27).text('Frequency');
kappaText(svg.append('text').attr('x', 982).attr('y', 430).attr('text-anchor', 'middle')
  .attr('font-size', 25).attr('fill', '#000'));
label('(b)', 661, 35);

///////////////
// Panel (c) //
///////////////

var gc = panel(177, 539);
var xc = d3.scaleLinear().domain([-4, 4]).range([0, W]);
var yc = d3.scaleLinear().domain([-0.04, 0.04]).range([H, 0]);
rings(gc, xc, yc, qqPoints, '#000');
gc.append('line')
  .attr('x1', xc(qqLine[0][0])).attr('y1', yc(qqLine[0][1] * milli))
  .attr('x2', xc(qqLine[1][0])).attr('y2', yc(qqLine[1][1] * milli))
  .attr('stroke', orange).attr('stroke-width', 2);
frame(gc, xc, yc, {
  xMajor: [-4, -2, 0, 2, 4], xMinor: d3.range(-4, 5, 1), xFmt: d3.format('d'),
  yMajor: residMajor, yMinor: milliTicks(2), yFmt: residFmt
});
yTitle(43, 666).attr('font-size', 27).text('Quantiles of');
kappaText(yTitle(78, 666));
svg.append('text').attr('x', 377).attr('y', 884).attr('text-anchor', 'middle')
  .attr('font-size', 27).attr('fill', '#000').text('Standard Normal Quantiles');
label('(c)', 10, 486);

///////////////
// Panel (d) //
///////////////

var gd = panel(782, 539);
var xd = d3.scaleLinear().domain([2, 7]).range([0, W]);
var yd = d3.scaleLinear().domain([-0.04, 0.04]).range([H, 0]);
rings(gd, xd, yd, magCore.concat(magOuter), brown);
zeroLine(gd, yd);
errorBars(gd, xd, yd, magBinCenter, magBinMean, magBinLow, magBinHigh);
frame(gd, xd, yd, {
  xMajor: [2, 3, 4, 5, 6, 7], xMinor: d3.range(2, 7.01, 0.5), xFmt: d3.format('d'),
  yMajor: residMajor, yMinor: milliTicks(5), yFmt: residFmt
});
kappaText(yTitle(680, 666));
var td = svg.append('text').attr('x', 982).attr('y', 884).attr('text-anchor', 'middle')
  .attr('font-size', 27).attr('fill', '#000');
td.append('tspan').text('Magnitude (M');
td.append('tspan').attr('font-size', 19).attr('dy', 6).text('L');
td.append('tspan').attr('dy', -6).text(')');
label('(d)', 661, 486);

</script>
</body>
</html>
